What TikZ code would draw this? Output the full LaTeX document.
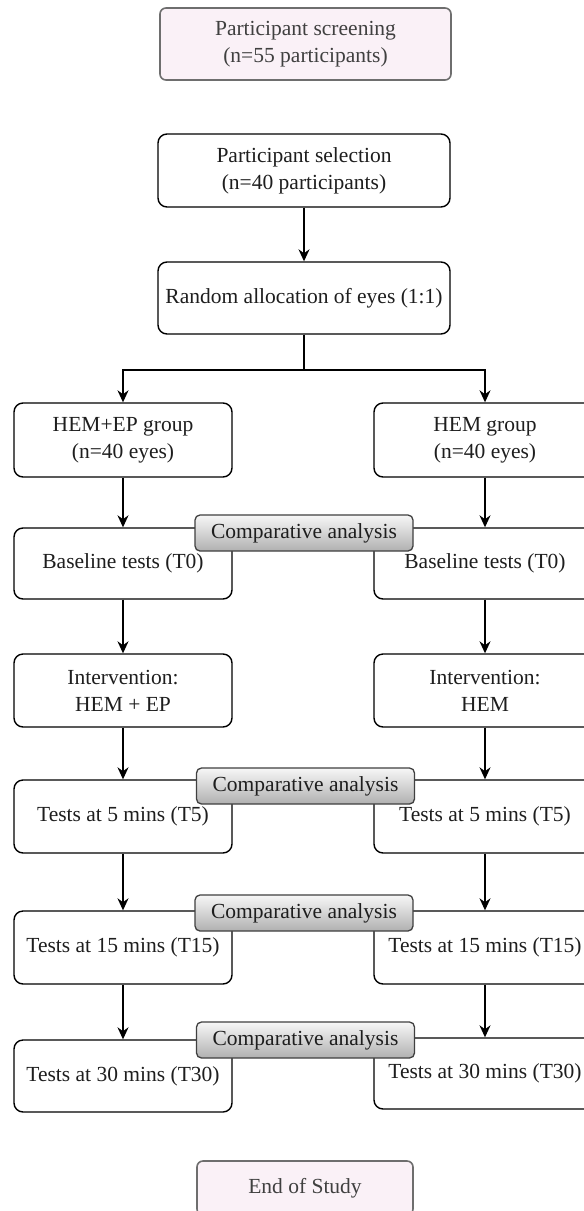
\documentclass[tikz,border=0pt]{standalone}
\usepackage{fontspec}
\setmainfont{Liberation Serif}
\usetikzlibrary{arrows.meta}
\definecolor{pinkfill}{RGB}{250,241,247}
\definecolor{termline}{RGB}{110,110,110}
\definecolor{txt}{RGB}{30,30,30}
\begin{document}
\begin{tikzpicture}[x=1pt,y=-1pt,
  box/.style={draw=black,line width=1.4pt,rounded corners=9pt,inner sep=0pt,align=center,
    font=\fontsize{21.5}{27}\selectfont,text=txt},
  lbox/.style={box,minimum width=218pt},
  cbox/.style={box,minimum width=292pt},
  term/.style={draw=termline,fill=pinkfill,line width=1.6pt,rounded corners=6pt,inner sep=0pt,
    align=center,font=\fontsize{21.5}{27}\selectfont,text=black!75},
  comp/.style={draw=black!75,line width=1.3pt,rounded corners=5pt,inner sep=0pt,
    top color=gray!6,bottom color=gray!62,minimum width=218pt,minimum height=36pt,
    font=\fontsize{21.5}{27}\selectfont,text=txt},
  arr/.style={line width=1.4pt,-{Stealth[length=12pt,width=11pt]}},
  ln/.style={line width=1.4pt}
]
\useasboundingbox (0,0) rectangle (584,1211);
\fill[white] (0,0) rectangle (584,1211);

% central column
\node[term,minimum width=291pt,minimum height=72pt] (screen) at (305.5,44) {Participant screening\\(n=55 participants)};
\node[cbox,minimum height=73pt] (select) at (304,170.5) {Participant selection\\(n=40 participants)};
\node[cbox,minimum height=72pt] (rand) at (304,298) {Random allocation of eyes (1:1)};

% left column
\node[lbox,minimum height=74pt] (hemep) at (123,440) {HEM+EP group\\(n=40 eyes)};
\node[lbox,minimum height=71pt] (baseL) at (123,563.5) {Baseline tests (T0)};
\node[lbox,minimum height=73pt] (intL) at (123,690.5) {Intervention:\\HEM + EP};
\node[lbox,minimum height=73pt] (t5L) at (123,816.5) {Tests at 5 mins (T5)};
\node[lbox,minimum height=73pt] (t15L) at (123,947.5) {Tests at 15 mins (T15)};
\node[lbox,minimum height=72pt] (t30L) at (123,1076) {Tests at 30 mins (T30)};

% right column
\node[lbox,minimum width=222pt,minimum height=74pt] (hem) at (485,440) {HEM group\\(n=40 eyes)};
\node[lbox,minimum width=222pt,minimum height=71pt] (baseR) at (485,563.5) {Baseline tests (T0)};
\node[lbox,minimum width=222pt,minimum height=73pt] (intR) at (485,690.5) {Intervention:\\HEM};
\node[lbox,minimum width=222pt,minimum height=73pt] (t5R) at (485,816.5) {Tests at 5 mins (T5)};
\node[lbox,minimum width=222pt,minimum height=73pt] (t15R) at (485,947.5) {Tests at 15 mins (T15)};
\node[lbox,minimum width=222pt,minimum height=71pt] (t30R) at (485,1073.5) {Tests at 30 mins (T30)};

% end
\node[term,minimum width=216pt,minimum height=54pt] (endst) at (305,1188) {End of Study};

% connectors
\draw[arr] (select) -- (rand);
\coordinate (split) at (304,370);
\draw[ln] (rand) -- (split);
\draw[arr] (split) -| (hemep.north);
\draw[arr] (split) -| (hem.north);
\draw[arr] (hemep) -- (baseL);
\draw[arr] (hem) -- (baseR);
\draw[arr] (baseL) -- (intL);
\draw[arr] (baseR) -- (intR);
\draw[arr] (intL) -- (t5L);
\draw[arr] (intR) -- (t5R);
\draw[arr] (t5L) -- (t15L);
\draw[arr] (t5R) -- (t15R);
\draw[arr] (t15L) -- (t30L);
\draw[arr] (t15R) -- (t30R);

% comparative analysis labels
\node[comp] (ca1) at (304,533) {Comparative analysis};
\node[comp] (ca2) at (305.5,786) {Comparative analysis};
\node[comp] (ca3) at (304,913) {Comparative analysis};
\node[comp] (ca4) at (305.5,1040) {Comparative analysis};
\end{tikzpicture}
\end{document}
